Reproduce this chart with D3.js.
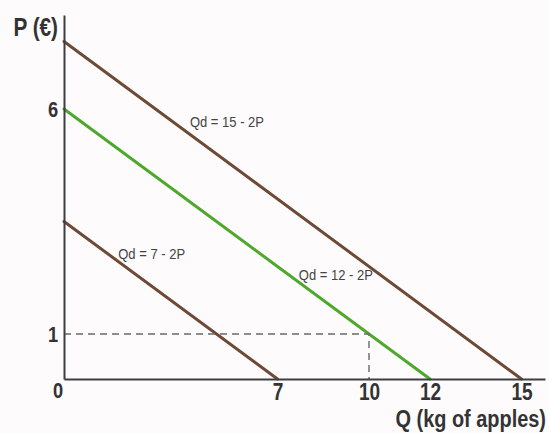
<!DOCTYPE html>
<html>
<head>
<meta charset="utf-8">
<script src="https://cdn.jsdelivr.net/npm/d3@7"></script>
<style>
  html, body { margin: 0; padding: 0; background: #fdfbfc; }
  svg { display: block; }
  text { font-family: "Liberation Sans", Arial, sans-serif; }
</style>
</head>
<body>
<svg id="chart" width="549" height="433"></svg>
<script>
// Demand curves: Qd = a - 2P, drawn from the P intercept to the Q intercept
const curveNames = ["Qd = 15 - 2P", "Qd = 12 - 2P", "Qd = 7 - 2P"];
const curveIntercepts = [15, 12, 7];
const curveSlope = 2;
const curveColors = ["#6d4a35", "#4ea82c", "#6d4a35"];

// Tick labels on each axis
const priceTicks = [1, 6];
const quantityTicks = [7, 10, 12, 15];

// Marked point on the middle curve
const markedPrice = [1];
const markedQuantity = [10];

const svg = d3.select("#chart");
const plot = { left: 64, right: 545, top: 15, bottom: 379 };
const pxPerKg = 30.5, pxPerEuro = 45;
const squeeze = 0.83; // horizontal condensing for the bold labels

const x = d3.scaleLinear()
  .domain([0, (plot.right - plot.left) / pxPerKg])
  .range([plot.left, plot.right]);
const y = d3.scaleLinear()
  .domain([0, (plot.bottom - plot.top) / pxPerEuro])
  .range([plot.bottom, plot.top]);

// Condensed text helper
function label(px, py, str, opts) {
  return svg.append("text")
    .attr("transform", `translate(${px},${py}) scale(${opts.sx || squeeze},1)`)
    .attr("text-anchor", opts.anchor || "start")
    .attr("font-size", opts.size)
    .attr("font-weight", opts.weight || "normal")
    .attr("fill", opts.fill || "#333")
    .text(str);
}

// Demand lines
curveIntercepts.forEach((a, i) => {
  svg.append("line")
    .attr("x1", x(0)).attr("y1", y(a / curveSlope))
    .attr("x2", x(a)).attr("y2", y(0))
    .attr("stroke", curveColors[i])
    .attr("stroke-width", 3)
    .attr("stroke-linecap", "round");
});

// Dashed guides to the marked point
svg.append("path")
  .attr("d", `M${x(0)},${y(markedPrice[0])}H${x(markedQuantity[0])}V${y(0)}`)
  .attr("fill", "none")
  .attr("stroke", "#6a6a6a")
  .attr("stroke-width", 1.4)
  .attr("stroke-dasharray", "7,5");

// Axes
const yAxis = d3.axisLeft(y).tickValues(priceTicks).tickSize(0).tickSizeOuter(0).tickPadding(7);
const xAxis = d3.axisBottom(x).tickValues(quantityTicks).tickSize(0).tickSizeOuter(0).tickPadding(5);

const gy = svg.append("g").attr("transform", `translate(${plot.left},0)`).call(yAxis);
const gx = svg.append("g").attr("transform", `translate(0,${plot.bottom})`).call(xAxis);

[gx, gy].forEach(g => {
  g.select(".domain").attr("stroke", "#3c3f43").attr("stroke-width", 2);
  g.selectAll("text")
    .attr("font-family", "'Liberation Sans', Arial, sans-serif")
    .attr("font-weight", "bold")
    .attr("fill", "#333")
    .attr("transform", `scale(${squeeze},1)`);
});
gx.selectAll("text").attr("font-size", 23);
gy.selectAll("text").attr("font-size", 22);

// Origin label
label(x(0) - 6, y(0) + 19, "0", { size: 22, weight: "bold", anchor: "middle" });

// Axis titles
label(58, 36, "P (€)", { size: 25, weight: "bold", anchor: "end" });
label(546, 427, "Q (kg of apples)", { size: 24, weight: "bold", anchor: "end" });

// Curve labels: placed at a price level, just right of the curve
const labelPrices = [5.6, 2.2, 2.66];
const labelNudge = [10, 3, 3];
curveNames.forEach((name, i) => {
  const p = labelPrices[i];
  const q = curveIntercepts[i] - curveSlope * p;
  label(x(q) + labelNudge[i], y(p), name, { size: 15.5, sx: 0.84, fill: "#444" });
});
</script>
</body>
</html>
